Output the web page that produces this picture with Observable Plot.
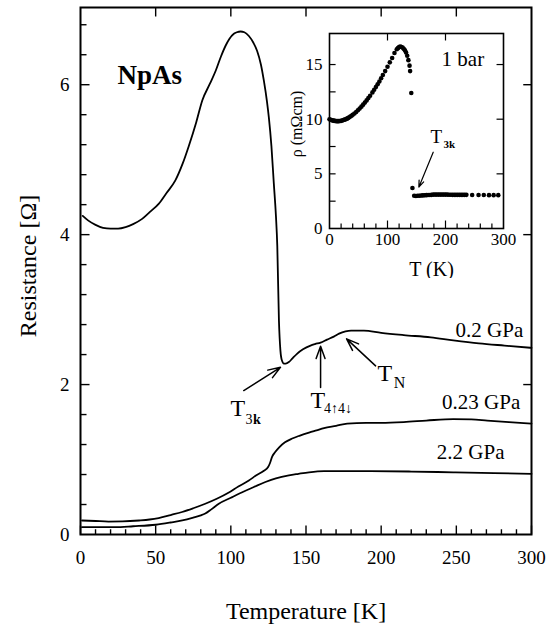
<!DOCTYPE html>
<html><head><meta charset="utf-8">
<script src="https://cdn.jsdelivr.net/npm/d3@7"></script>
<script src="https://cdn.jsdelivr.net/npm/@observablehq/plot@0.6"></script>
<style>
body{margin:0;background:#fff}
#wrap{position:relative;width:559px;height:627px}
#inset{position:absolute;left:279px;top:28px}
</style>
</head><body><div id="wrap"><div id="main"></div><div id="inset"></div></div>
<script>
// 0.2 GPa
const T02 = [1.5, 5, 10, 15, 20, 25, 30, 35, 41, 46, 52, 57, 63, 68, 72, 77, 81, 86, 90, 93.5, 96.5, 99, 102, 104, 106.5, 109, 112, 115, 117.5, 120, 122, 124, 125.3, 127, 128.6, 130, 130.9, 132, 133, 134, 135.3, 136.5, 138.6, 141, 144, 148, 153, 156, 159.7, 164, 168.5, 172, 176.3, 180, 188.5, 200, 215, 233, 248, 265, 282, 300];
const R02 = [4.25, 4.19, 4.13, 4.09, 4.08, 4.08, 4.10, 4.14, 4.21, 4.30, 4.41, 4.55, 4.72, 4.95, 5.18, 5.50, 5.79, 6.01, 6.19, 6.38, 6.52, 6.61, 6.68, 6.70, 6.71, 6.70, 6.65, 6.56, 6.45, 6.27, 6.05, 5.78, 5.56, 5.18, 4.68, 4.25, 3.85, 2.85, 2.45, 2.32, 2.28, 2.28, 2.30, 2.35, 2.41, 2.47, 2.52, 2.54, 2.56, 2.60, 2.64, 2.68, 2.71, 2.72, 2.72, 2.69, 2.66, 2.63, 2.59, 2.55, 2.52, 2.49];
// 0.23 GPa
const T023 = [1, 10, 18.6, 28, 39, 46, 52, 60, 67.6, 75, 83, 91, 98.7, 105, 112, 117, 122, 124.8, 126, 127.5, 129.5, 132, 136, 140.8, 146, 152, 157, 162, 170, 177.4, 190, 200, 215, 230, 248, 260, 270.6, 285, 300];
const R023 = [0.187, 0.18, 0.173, 0.175, 0.187, 0.2, 0.22, 0.26, 0.30, 0.35, 0.41, 0.48, 0.56, 0.64, 0.72, 0.79, 0.85, 0.90, 0.95, 1.04, 1.10, 1.16, 1.23, 1.28, 1.32, 1.36, 1.39, 1.42, 1.45, 1.48, 1.49, 1.49, 1.50, 1.52, 1.54, 1.535, 1.52, 1.50, 1.48];
// 2.2 GPa
const T22 = [1, 10, 23, 35, 50, 60, 67.7, 75, 80, 83, 87, 92, 100, 107.6, 115, 123, 130, 138.6, 145, 152, 162, 175, 193, 220, 248, 275, 300];
const R22 = [0.098, 0.098, 0.098, 0.11, 0.13, 0.16, 0.187, 0.225, 0.255, 0.28, 0.335, 0.41, 0.49, 0.564, 0.63, 0.70, 0.75, 0.79, 0.81, 0.83, 0.845, 0.845, 0.845, 0.84, 0.83, 0.82, 0.81];
// inset, 1 bar
const Tin = [0, 2, 4, 6, 8, 10, 12, 14, 16, 18, 20, 22, 24, 26, 28, 30, 32, 34, 36, 38, 40, 43, 46, 49, 52, 55, 58, 61, 64, 67, 70, 74, 77, 80, 83, 86, 89, 92, 96, 100, 104, 108, 112, 116, 118, 120, 122, 124, 126, 128, 130, 132, 134, 136, 138, 139, 141, 143,
  146, 149, 152, 155, 158, 161, 164, 167, 170, 173, 176, 179, 182, 185, 188, 191, 194, 197, 200, 203, 206, 209, 212, 215, 218, 221, 224, 227, 230, 233, 236, 246, 257, 266, 275, 283, 291];
const Rin = [10.0, 9.95, 9.9, 9.87, 9.85, 9.83, 9.82, 9.82, 9.82, 9.83, 9.85, 9.88, 9.92, 9.96, 10.0, 10.05, 10.1, 10.17, 10.24, 10.32, 10.4, 10.52, 10.66, 10.82, 10.98, 11.15, 11.33, 11.52, 11.72, 11.93, 12.15, 12.45, 12.7, 12.95, 13.2, 13.45, 13.75, 14.05, 14.4, 14.8, 15.2, 15.6, 16.05, 16.4, 16.5, 16.6, 16.65, 16.6, 16.55, 16.45, 16.3, 16.1, 15.8, 15.4, 14.9, 14.4, 12.4, 3.7,
  3.0, 2.98, 3.0, 3.0, 3.02, 3.03, 3.04, 3.05, 3.06, 3.07, 3.08, 3.1, 3.1, 3.1, 3.1, 3.1, 3.1, 3.1, 3.1, 3.1, 3.09, 3.09, 3.08, 3.08, 3.08, 3.08, 3.08, 3.08, 3.08, 3.08, 3.08, 3.07, 3.07, 3.06, 3.05, 3.05, 3.05];

const xTicks = [0, 50, 100, 150, 200, 250, 300];
const yTicks = [0, 2, 4, 6];
const inXTicks = [0, 100, 200, 300];
const inYTicks = [0, 5, 10, 15];

const font = "'Liberation Serif', 'Times New Roman', serif";
const rows = (T, R, s) => T.map((t, i) => ({T: t, R: R[i], s}));
const curves = [...rows(T02, R02, "0.2 GPa"), ...rows(T023, R023, "0.23 GPa"), ...rows(T22, R22, "2.2 GPa")];
const insetPts = Tin.map((t, i) => ({T: t, rho: Rin[i]}));

const xMinor = [10, 20, 30, 40, 60, 70, 80, 90, 110, 120, 130, 140, 160, 170, 180, 190, 210, 220, 230, 240, 260, 270, 280, 290];
const yMinor = [0.4, 0.8, 1.2, 1.6, 2.4, 2.8, 3.2, 3.6, 4.4, 4.8, 5.2, 5.6, 6.4, 6.8];
const Ytop = 7.03;

// tick segments (inward), built from the tick values
const tickSegs = [
  ...xMinor.map(v => ({x1: v, x2: v, y1: 0, y2: 0.07})),
  ...xTicks.map(v => ({x1: v, x2: v, y1: 0, y2: 0.12})),
  ...xTicks.slice(1, -1).map(v => ({x1: v, x2: v, y1: Ytop, y2: Ytop - 0.12})),
  ...yMinor.map(v => ({x1: 0, x2: 4, y1: v, y2: v})),
  ...yTicks.slice(1).map(v => ({x1: 0, x2: 6, y1: v, y2: v})),
  ...yTicks.slice(1).map(v => ({x1: 300, x2: 294.5, y1: v, y2: v}))
];

const main = Plot.plot({
  width: 559, height: 627,
  marginLeft: 80, marginRight: 28, marginTop: 7, marginBottom: 93,
  style: {fontFamily: font, background: "white", color: "black"},
  x: {domain: [0, 300]},
  y: {domain: [0, Ytop]},
  marks: [
    Plot.axisX({ticks: xTicks, tickSize: 0, tickPadding: 16, fontSize: 19, label: null, tickFormat: d => String(d)}),
    Plot.axisY({ticks: yTicks, tickSize: 0, tickPadding: 11, fontSize: 19, label: null, tickFormat: d => String(d)}),
    Plot.line(curves, {x: "T", y: "R", z: "s", stroke: "black", strokeWidth: 1.8, curve: "monotone-x"}),
    // series labels
    Plot.text(["0.2 GPa"], {text: d => d, x: 272, y: 2.63, lineAnchor: "bottom", fontSize: 21}),
    Plot.text(["0.23 GPa"], {text: d => d, x: 266.5, y: 1.68, lineAnchor: "bottom", fontSize: 21}),
    Plot.text(["2.2 GPa"], {text: d => d, x: 259.5, y: 1.01, lineAnchor: "bottom", fontSize: 21}),
    Plot.text(["NpAs"], {text: d => d, x: 46, y: 6.01, lineAnchor: "bottom", fontSize: 27, fontWeight: "bold"}),
    // annotations
    Plot.arrow([0], {x1: 108.6, y1: 1.92, x2: 133, y2: 2.23, headLength: 13, headAngle: 40, strokeWidth: 1.5}),
    Plot.arrow([0], {x1: 159.7, y1: 1.96, x2: 159.7, y2: 2.51, headLength: 13, headAngle: 40, strokeWidth: 1.5}),
    Plot.arrow([0], {x1: 196.3, y1: 2.25, x2: 177, y2: 2.61, headLength: 13, headAngle: 40, strokeWidth: 1.5}),
    Plot.text(["T"], {text: d => d, x: 99.8, y: 1.587, textAnchor: "start", lineAnchor: "bottom", fontSize: 24}),
    Plot.text(["3"], {text: d => d, x: 109.8, y: 1.48, textAnchor: "start", lineAnchor: "bottom", fontSize: 14}),
    Plot.text(["k"], {text: d => d, x: 114.8, y: 1.48, textAnchor: "start", lineAnchor: "bottom", fontSize: 14, fontWeight: "bold"}),
    Plot.text(["T"], {text: d => d, x: 153, y: 1.693, textAnchor: "start", lineAnchor: "bottom", fontSize: 24}),
    Plot.text(["4↑4↓"], {text: d => d, x: 162, y: 1.627, textAnchor: "start", lineAnchor: "bottom", fontSize: 14}),
    Plot.text(["T"], {text: d => d, x: 197.6, y: 2.053, textAnchor: "start", lineAnchor: "bottom", fontSize: 24}),
    Plot.text(["N"], {text: d => d, x: 208.3, y: 1.96, textAnchor: "start", lineAnchor: "bottom", fontSize: 16}),
    // axis titles
    Plot.text(["Temperature [K]"], {text: d => d, frameAnchor: "bottom", textAnchor: "middle", lineAnchor: "bottom", dy: 84, fontSize: 24}),
    Plot.text(["Resistance [Ω]"], {text: d => d, frameAnchor: "left", textAnchor: "middle", lineAnchor: "bottom", rotate: -90, dx: -45, dy: -5, fontSize: 24}),
    // inward ticks and frame, drawn last
    Plot.link(tickSegs, {x1: "x1", x2: "x2", y1: "y1", y2: "y2", stroke: "black", strokeWidth: 1.4}),
    Plot.frame({stroke: "black", strokeWidth: 2})
  ]
});
document.getElementById("main").appendChild(main);

const inMaxY = 17.84;
const inTickSegs = [
  ...d3.range(20, 300, 20).map(v => ({x1: v, x2: v, y1: 0, y2: (v % 100 === 0 ? 0.73 : 0.46)})),
  ...[100, 200].map(v => ({x1: v, x2: v, y1: inMaxY, y2: inMaxY - 0.64})),
  ...[2.5, 5, 7.5, 10, 12.5, 15].map(v => ({x1: 0, x2: 10.5, y1: v, y2: v})),
  ...[5, 10, 15].map(v => ({x1: 300, x2: 288, y1: v, y2: v}))
];
const inset = Plot.plot({
  width: 254, height: 250,
  marginLeft: 50, marginRight: 30, marginTop: 5, marginBottom: 50,
  style: {fontFamily: font, background: "transparent", color: "black"},
  x: {domain: [0, 300]},
  y: {domain: [0, inMaxY]},
  marks: [
    Plot.axisX({ticks: inXTicks, tickSize: 0, tickPadding: 4, fontSize: 17, label: null, tickFormat: d => String(d)}),
    Plot.axisY({ticks: inYTicks, tickSize: 0, tickPadding: 7, fontSize: 17, label: null, tickFormat: d => String(d)}),
    Plot.dot(insetPts, {x: "T", y: "rho", r: 2.3, fill: "black", stroke: null}),
    Plot.text(["1 bar"], {text: d => d, x: 230, y: 14.9, lineAnchor: "bottom", fontSize: 21}),
    Plot.arrow([0], {x1: 178.8, y1: 6.98, x2: 154, y2: 3.78, headLength: 9, headAngle: 40, strokeWidth: 1.2}),
    Plot.text(["T"], {text: d => d, x: 174, y: 7.78, textAnchor: "start", lineAnchor: "bottom", fontSize: 19}),
    Plot.text(["3k"], {text: d => d, x: 196.5, y: 7.41, textAnchor: "start", lineAnchor: "bottom", fontSize: 11, fontWeight: "bold"}),
    Plot.text(["T (K)"], {text: d => d, frameAnchor: "bottom", textAnchor: "middle", lineAnchor: "bottom", dx: 15, dy: 47, fontSize: 20}),
    Plot.text(["ρ (mΩcm)"], {text: d => d, frameAnchor: "left", textAnchor: "middle", lineAnchor: "bottom", rotate: -90, dx: -28, dy: -7, fontSize: 16}),
    Plot.link(inTickSegs, {x1: "x1", x2: "x2", y1: "y1", y2: "y2", stroke: "black", strokeWidth: 1.2}),
    Plot.frame({stroke: "black", strokeWidth: 1.6})
  ]
});
inset.style.background = "transparent";
document.getElementById("inset").appendChild(inset);
</script>
</body></html>
